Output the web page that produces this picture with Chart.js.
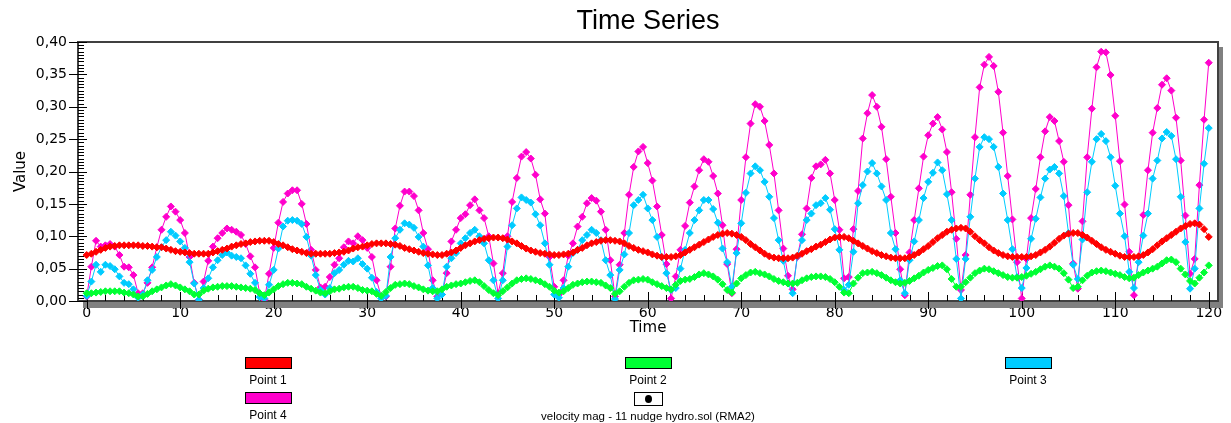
<!DOCTYPE html>
<html>
<head>
<meta charset="utf-8">
<title>Time Series</title>
<script src="https://cdn.jsdelivr.net/npm/chart.js@4.4.1/dist/chart.umd.min.js"></script>
<style>
  html, body { margin: 0; padding: 0; background: #fff; }
  #wrap { position: relative; width: 1231px; height: 423px; overflow: hidden; }
  #chart { position: absolute; left: 0; top: 0; }
  .lg { position: absolute; width: 200px; margin-left: -100px; text-align: center;
        font: 12px "Liberation Sans", Arial, sans-serif; color: #000; line-height: 14px; }
  .lg .sw { width: 45px; height: 10px; border: 1px solid #000; margin: 0 auto 4px; }
  .lg .sym { width: 27px; height: 12px; border: 1px solid #000; margin: 0 auto 3px; position: relative; background: #fff; }
  .lg .sym i { position: absolute; left: 10px; top: 2px; width: 7px; height: 8px; border-radius: 50%; background: #000; }
</style>
</head>
<body>
<div id="wrap">
  <canvas id="chart" width="1231" height="423"></canvas>
</div>
<script>
// sampling interval of the series (time units)
const TIME_STEP = 0.5;

const X_TICKS = [0, 10, 20, 30, 40, 50, 60, 70, 80, 90, 100, 110, 120];
const Y_TICKS = [0, 0.05, 0.10, 0.15, 0.20, 0.25, 0.30, 0.35, 0.40];

const SERIES_NAMES = ['Point 1', 'Point 2', 'Point 3', 'Point 4'];
const SERIES_COLORS = ['#ff0000', '#00ff33', '#00ccff', '#ff00cc'];
const MARKER_NOTE = 'velocity mag - 11 nudge hydro.sol (RMA2)';

// Point 1 (red)
const POINT1 = [
  0.071,0.073,0.076,0.079,0.082,0.084,0.085,0.086,0.086,0.086,
  0.086,0.086,0.085,0.085,0.084,0.083,0.083,0.081,0.079,0.077,
  0.076,0.075,0.074,0.073,0.073,0.073,0.073,0.075,0.077,0.079,
  0.081,0.084,0.086,0.088,0.089,0.091,0.092,0.093,0.093,0.093,
  0.091,0.088,0.086,0.083,0.080,0.078,0.076,0.074,0.073,0.073,
  0.073,0.073,0.073,0.074,0.075,0.076,0.078,0.081,0.083,0.084,
  0.086,0.088,0.089,0.089,0.089,0.088,0.087,0.085,0.082,0.080,
  0.078,0.076,0.074,0.073,0.072,0.071,0.071,0.073,0.075,0.078,
  0.082,0.086,0.089,0.092,0.094,0.096,0.097,0.098,0.098,0.097,
  0.095,0.092,0.089,0.085,0.081,0.078,0.076,0.074,0.073,0.072,
  0.071,0.071,0.072,0.073,0.075,0.079,0.082,0.086,0.089,0.091,
  0.093,0.094,0.094,0.093,0.092,0.089,0.085,0.082,0.079,0.077,
  0.075,0.072,0.070,0.068,0.068,0.068,0.069,0.071,0.075,0.079,
  0.083,0.087,0.091,0.095,0.099,0.102,0.104,0.105,0.104,0.102,
  0.099,0.094,0.088,0.083,0.078,0.073,0.069,0.067,0.066,0.066,
  0.066,0.067,0.070,0.073,0.077,0.080,0.084,0.087,0.091,0.095,
  0.098,0.099,0.099,0.097,0.093,0.089,0.085,0.081,0.077,0.074,
  0.071,0.069,0.067,0.066,0.066,0.066,0.068,0.071,0.075,0.080,
  0.085,0.091,0.097,0.102,0.107,0.110,0.112,0.113,0.112,0.107,
  0.100,0.094,0.089,0.083,0.078,0.074,0.071,0.069,0.068,0.068,
  0.068,0.068,0.069,0.071,0.075,0.079,0.084,0.090,0.096,0.101,
  0.104,0.105,0.105,0.102,0.098,0.093,0.088,0.083,0.079,0.076,
  0.073,0.070,0.068,0.068,0.068,0.069,0.071,0.075,0.080,0.086,
  0.092,0.097,0.102,0.107,0.112,0.116,0.119,0.120,0.118,0.111,
  0.099
];

// Point 2 (green)
const POINT2 = [
  0.012,0.012,0.013,0.014,0.015,0.015,0.015,0.015,0.013,0.012,
  0.010,0.007,0.007,0.011,0.015,0.018,0.021,0.024,0.026,0.024,
  0.021,0.018,0.015,0.010,0.010,0.016,0.019,0.021,0.022,0.023,
  0.023,0.023,0.022,0.021,0.020,0.019,0.017,0.012,0.009,0.013,
  0.018,0.023,0.026,0.028,0.028,0.027,0.026,0.022,0.019,0.016,
  0.013,0.012,0.015,0.018,0.019,0.021,0.022,0.022,0.020,0.017,
  0.016,0.015,0.011,0.008,0.014,0.020,0.025,0.026,0.027,0.026,
  0.023,0.021,0.018,0.016,0.015,0.015,0.018,0.022,0.024,0.026,
  0.027,0.029,0.031,0.032,0.029,0.023,0.017,0.012,0.009,0.015,
  0.021,0.027,0.032,0.034,0.035,0.034,0.032,0.030,0.026,0.022,
  0.016,0.013,0.015,0.020,0.025,0.027,0.029,0.030,0.030,0.029,
  0.028,0.024,0.020,0.011,0.015,0.022,0.028,0.032,0.033,0.034,
  0.033,0.029,0.026,0.023,0.020,0.018,0.025,0.031,0.033,0.034,
  0.037,0.041,0.043,0.041,0.038,0.033,0.026,0.017,0.013,0.027,
  0.035,0.040,0.044,0.045,0.043,0.041,0.038,0.034,0.031,0.029,
  0.027,0.027,0.028,0.032,0.035,0.037,0.038,0.038,0.037,0.034,
  0.029,0.022,0.013,0.012,0.027,0.036,0.043,0.044,0.045,0.043,
  0.040,0.036,0.032,0.029,0.027,0.028,0.031,0.035,0.039,0.044,
  0.048,0.051,0.054,0.055,0.049,0.034,0.022,0.022,0.029,0.036,
  0.043,0.047,0.050,0.049,0.046,0.043,0.040,0.037,0.036,0.036,
  0.037,0.039,0.042,0.045,0.049,0.053,0.055,0.053,0.050,0.043,
  0.033,0.020,0.022,0.032,0.039,0.044,0.046,0.047,0.046,0.044,
  0.042,0.040,0.037,0.035,0.036,0.040,0.044,0.047,0.050,0.053,
  0.058,0.063,0.064,0.060,0.050,0.041,0.031,0.027,0.036,0.044,
  0.055
];

// Point 3 (cyan)
const POINT3 = [
  0.008,0.030,0.056,0.045,0.056,0.054,0.049,0.038,0.028,0.026,
  0.018,0.005,0.010,0.032,0.048,0.068,0.083,0.094,0.107,0.101,
  0.092,0.082,0.060,0.027,0.002,0.020,0.035,0.052,0.063,0.071,
  0.075,0.070,0.068,0.066,0.055,0.042,0.028,0.006,0.004,0.025,
  0.048,0.081,0.115,0.124,0.125,0.124,0.119,0.099,0.070,0.040,
  0.017,0.010,0.020,0.043,0.048,0.056,0.062,0.061,0.066,0.057,
  0.050,0.036,0.014,0.004,0.008,0.068,0.097,0.110,0.120,0.118,
  0.113,0.099,0.084,0.055,0.020,0.004,0.010,0.053,0.066,0.074,
  0.089,0.097,0.105,0.110,0.100,0.089,0.063,0.032,0.004,0.032,
  0.084,0.117,0.143,0.160,0.156,0.152,0.134,0.117,0.089,0.056,
  0.010,0.005,0.020,0.053,0.074,0.079,0.094,0.102,0.110,0.105,
  0.094,0.063,0.040,0.003,0.048,0.072,0.105,0.148,0.156,0.164,
  0.143,0.125,0.099,0.068,0.043,0.017,0.020,0.050,0.079,0.105,
  0.125,0.140,0.156,0.156,0.142,0.121,0.081,0.060,0.022,0.074,
  0.120,0.167,0.197,0.208,0.202,0.184,0.161,0.128,0.094,0.062,
  0.027,0.012,0.069,0.094,0.125,0.135,0.148,0.151,0.159,0.141,
  0.111,0.079,0.017,0.025,0.076,0.151,0.179,0.200,0.213,0.197,
  0.177,0.156,0.105,0.080,0.032,0.012,0.063,0.092,0.125,0.159,
  0.184,0.198,0.214,0.202,0.165,0.125,0.065,0.004,0.065,0.130,
  0.189,0.238,0.253,0.250,0.238,0.207,0.166,0.125,0.080,0.037,
  0.020,0.051,0.096,0.127,0.160,0.189,0.203,0.207,0.197,0.162,
  0.105,0.056,0.034,0.095,0.168,0.215,0.250,0.258,0.247,0.222,
  0.178,0.135,0.100,0.045,0.020,0.060,0.101,0.135,0.189,0.217,
  0.251,0.261,0.255,0.219,0.161,0.091,0.019,0.050,0.143,0.212,
  0.267
];

// Point 4 (magenta)
const POINT4 = [
  0.007,0.053,0.093,0.084,0.086,0.088,0.084,0.071,0.053,0.052,
  0.040,0.012,0.012,0.028,0.052,0.083,0.110,0.130,0.146,0.138,
  0.125,0.105,0.068,0.028,0.002,0.030,0.062,0.084,0.097,0.105,
  0.112,0.110,0.107,0.102,0.088,0.069,0.052,0.012,0.002,0.042,
  0.082,0.121,0.153,0.166,0.171,0.171,0.150,0.119,0.079,0.048,
  0.021,0.022,0.037,0.056,0.066,0.083,0.092,0.089,0.100,0.094,
  0.082,0.068,0.032,0.007,0.007,0.053,0.112,0.147,0.169,0.169,
  0.162,0.140,0.105,0.080,0.032,0.007,0.010,0.043,0.092,0.110,
  0.128,0.134,0.148,0.157,0.140,0.128,0.100,0.058,0.012,0.043,
  0.100,0.153,0.190,0.223,0.230,0.220,0.195,0.157,0.135,0.068,
  0.022,0.010,0.032,0.070,0.089,0.115,0.130,0.151,0.159,0.155,
  0.138,0.110,0.063,0.007,0.056,0.105,0.164,0.207,0.231,0.238,
  0.213,0.186,0.146,0.102,0.057,0.004,0.038,0.079,0.116,0.152,
  0.177,0.202,0.219,0.215,0.193,0.166,0.117,0.057,0.012,0.080,
  0.156,0.222,0.274,0.304,0.300,0.278,0.241,0.197,0.140,0.081,
  0.039,0.018,0.068,0.103,0.143,0.190,0.208,0.211,0.218,0.197,
  0.156,0.110,0.035,0.037,0.111,0.170,0.251,0.290,0.318,0.300,
  0.269,0.219,0.161,0.105,0.049,0.009,0.075,0.125,0.174,0.223,
  0.256,0.274,0.284,0.265,0.230,0.168,0.096,0.017,0.071,0.164,
  0.253,0.330,0.365,0.377,0.363,0.323,0.260,0.193,0.126,0.060,
  0.004,0.065,0.128,0.173,0.222,0.262,0.284,0.278,0.247,0.215,
  0.148,0.058,0.019,0.123,0.222,0.297,0.361,0.385,0.384,0.349,
  0.286,0.216,0.149,0.076,0.009,0.068,0.133,0.202,0.260,0.298,
  0.334,0.344,0.325,0.283,0.217,0.132,0.042,0.065,0.179,0.280,
  0.368
];

const SERIES = [POINT1, POINT2, POINT3, POINT4];

const FONT = '"DejaVu Sans", Verdana, sans-serif';

// plot box with drop shadow plus inward tick marks, like the original tool draws it
const framePlugin = {
  id: 'frame',
  beforeDatasetsDraw(chart) {
    const { ctx, chartArea: a, scales: { x, y } } = chart;
    ctx.save();
    ctx.fillStyle = '#808080';
    ctx.fillRect(a.left + 5, a.top + 5, a.right - a.left, a.bottom - a.top + 2);
    ctx.fillStyle = '#ffffff';
    ctx.fillRect(a.left, a.top, a.right - a.left, a.bottom - a.top);

    ctx.strokeStyle = '#404040';
    ctx.lineWidth = 2;
    ctx.strokeRect(a.left, a.top, a.right - a.left, a.bottom - a.top);

    ctx.strokeStyle = '#000';
    ctx.lineWidth = 1;
    ctx.beginPath();
    for (let k = 0; k <= 60; k++) {
      const px = Math.round(x.getPixelForValue(k * 2)) + 0.5;
      const major = k % 5 === 0;
      ctx.moveTo(px, a.bottom + (major ? 8 : 0));
      ctx.lineTo(px, a.bottom - (major ? 9 : 6));
    }
    for (let k = 0; k <= 80; k++) {
      const py = Math.round(y.getPixelForValue(k * 0.005)) + 0.5;
      const major = k % 10 === 0;
      ctx.moveTo(a.left - (major ? 9 : 0), py);
      ctx.lineTo(a.left + (major ? 9 : 6), py);
    }
    ctx.stroke();
    ctx.restore();
  }
};

const datasets = SERIES.map((vals, i) => ({
  label: SERIES_NAMES[i],
  data: vals.map((v, j) => ({ x: j * TIME_STEP, y: v })),
  borderColor: SERIES_COLORS[i],
  backgroundColor: SERIES_COLORS[i],
  borderWidth: 1,
  pointStyle: 'rectRot',
  pointRadius: 3.5,
  pointBorderWidth: 1,
  tension: 0
}));

const chart = new Chart(document.getElementById('chart'), {
  type: 'line',
  data: { datasets },
  plugins: [framePlugin],
  options: {
    responsive: false,
    animation: false,
    events: [],
    layout: { padding: { left: 0, right: 13, top: 0, bottom: 86 } },
    plugins: {
      legend: { display: false },
      tooltip: { enabled: false },
      title: {
        display: true,
        fullSize: false,
        text: 'Time Series',
        color: '#000',
        font: { family: '"Liberation Sans", Arial, sans-serif', size: 27, weight: 'normal' },
        padding: { top: 5, bottom: 4.6 }
      }
    },
    scales: {
      x: {
        type: 'linear',
        min: -0.93,
        max: 120.99,
        grid: { display: false, drawTicks: false },
        border: { display: false },
        afterBuildTicks: s => { s.ticks = X_TICKS.map(v => ({ value: v })); },
        afterFit: s => { s.height = 36; },
        ticks: { autoSkip: false, maxRotation: 0, padding: 4, color: '#000',
                 font: { family: FONT, size: 14 } },
        title: { display: true, text: 'Time', color: '#000',
                 font: { family: FONT, size: 15 }, padding: { top: 0, bottom: 0 } }
      },
      y: {
        min: 0,
        max: 0.40,
        grid: { display: false, drawTicks: false },
        border: { display: false },
        afterBuildTicks: s => { s.ticks = Y_TICKS.map(v => ({ value: v })); },
        afterFit: s => { s.width = 78; },
        ticks: { padding: 11, color: '#000', font: { family: FONT, size: 14 },
                 callback: v => v.toFixed(2).replace('.', ',') },
        title: { display: true, text: 'Value', color: '#000',
                 font: { family: FONT, size: 15 }, padding: { top: 12, bottom: 0 } }
      }
    }
  }
});

// legend laid out in two rows under the axis, as in the original
const slots = [
  { cx: 268, top: 357 }, { cx: 648, top: 357 }, { cx: 1028, top: 357 },
  { cx: 268, top: 392 }
];
const wrap = document.getElementById('wrap');
chart.data.datasets.forEach((ds, i) => {
  const el = document.createElement('div');
  el.className = 'lg';
  el.style.left = slots[i].cx + 'px';
  el.style.top = slots[i].top + 'px';
  el.innerHTML = '<div class="sw" style="background:' + ds.borderColor + '"></div>' + ds.label;
  wrap.appendChild(el);
});
const note = document.createElement('div');
note.className = 'lg';
note.style.width = '300px';
note.style.marginLeft = '-150px';
note.style.left = '648px';
note.style.top = '392px';
note.style.fontSize = '11.5px';
note.innerHTML = '<div class="sym"><i></i></div>' + MARKER_NOTE;
wrap.appendChild(note);
</script>
</body>
</html>
